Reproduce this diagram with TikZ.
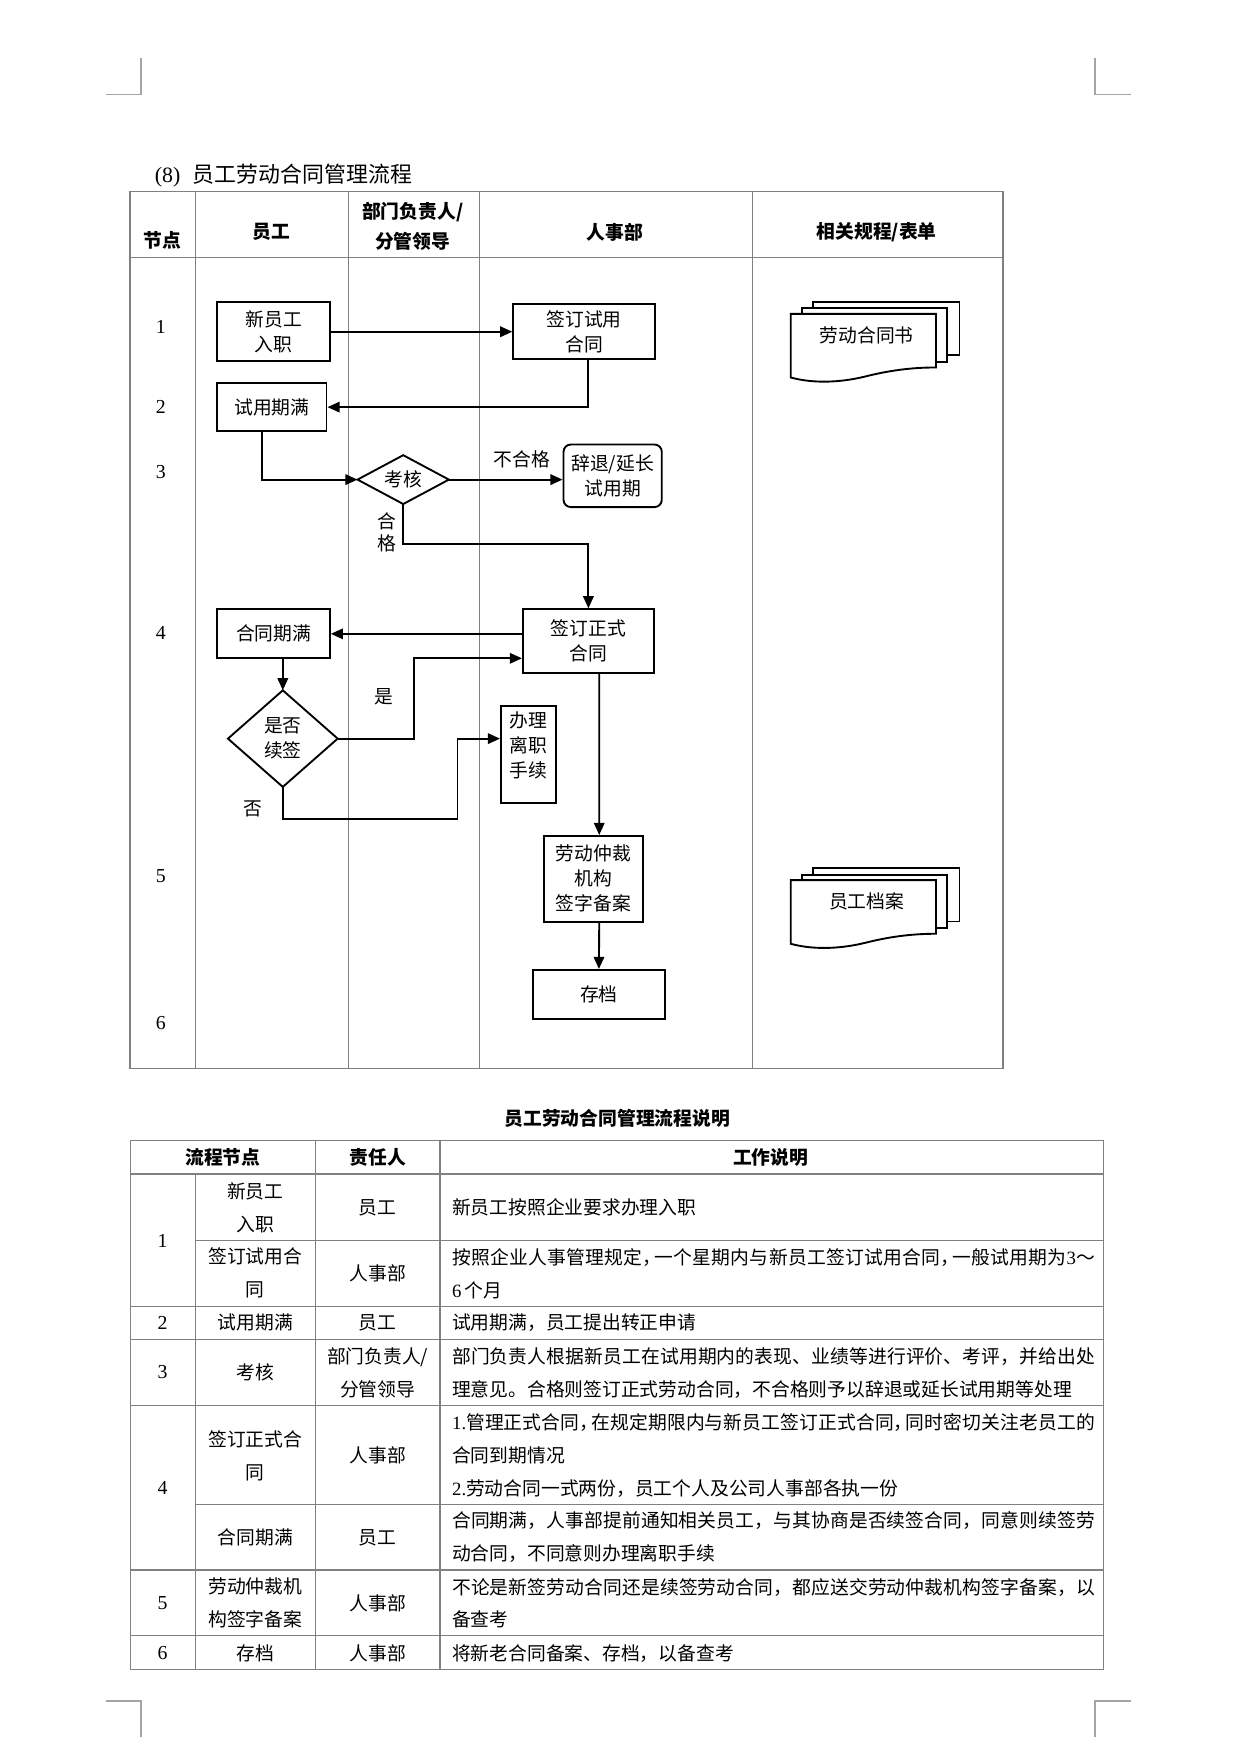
\documentclass[tikz,border=0pt]{standalone}
\usepackage{fontspec}
\setmainfont{Liberation Serif}
\newfontfamily\cjk{Noto Sans CJK SC}
\usetikzlibrary{arrows.meta,calc}
\XeTeXlinebreaklocale "zh"
\XeTeXlinebreakskip=0pt plus 1.5pt
\setlength{\parindent}{0pt}
\definecolor{tablegray}{RGB}{128,128,128}
\definecolor{markgray}{RGB}{165,165,165}
\def\PX{0.5353pt}
\newcommand\nm[1]{{\rmfamily #1}}
\begin{document}
\begin{tikzpicture}[x=0.5353pt,y=-0.5353pt,
  tline/.style={draw=tablegray,line width=0.6pt},
  cornermark/.style={draw=markgray,line width=0.7pt},
  shp/.style={draw=black,line width=0.9pt},
  arr/.style={draw=black,line width=0.9pt,-{Triangle[length=5.8pt,width=5pt]}},
  box/.style={shp,fill=white,inner sep=0pt,align=center,font=\cjk\fontsize{9}{12}\selectfont},
  txt/.style={inner sep=0pt,align=center,font=\cjk\fontsize{9}{12}\selectfont},
  hdr/.style={inner sep=0pt,align=center,font=\cjk\bfseries\fontsize{9}{14.7}\selectfont},
  num/.style={inner sep=0pt,font=\rmfamily\fontsize{9.5}{12}\selectfont},
  cell/.style={inner sep=0pt,align=center,font=\cjk\fontsize{9}{15.8}\selectfont},
  desc/.style={inner sep=0pt,anchor=west,text width=308pt,align=justify,font=\cjk\fontsize{9}{15.8}\selectfont},
]
\fill[white] (0,0) rectangle (1112,1565);
\useasboundingbox (0,0) rectangle (1112,1565);

% corner marks
\draw[cornermark] (94.5,84.4) -- (126.2,84.4) -- (126.2,52.2);
\draw[cornermark] (1012.6,84.4) -- (980.5,84.4) -- (980.5,52.2);
\draw[cornermark] (94.9,1522.8) -- (126.2,1522.8) -- (126.2,1555.3);
\draw[cornermark] (1012.4,1522.8) -- (980.5,1522.8) -- (980.5,1555.3);

% title
\node[anchor=west,inner sep=0pt,font=\cjk\fontsize{10.5}{12}\selectfont] (title) at (138.3,157.3) {\nm{(8)}\hspace{6pt}员工劳动合同管理流程};

% flow table grid
\draw[tline] (116.5,171.6) rectangle (898,956.4);
\draw[tline] (116.5,230.4) -- (898,230.4);
\foreach \xx in {175.2,312,429.4,673.7} {\draw[tline] (\xx,171.6) -- (\xx,956.4);}

\node[hdr] (h1) at (145.4,215.5) {节点};
\node[hdr] (h2) at (243.2,208) {员工};
\node[hdr] (h3) at (369.5,202.6) {部门负责人/\\分管领导};
\node[hdr] (h4) at (550.3,208) {人事部};
\node[hdr] (h5) at (785,208) {相关规程/表单};

\node[num] (r1) at (144,292.5) {1};
\node[num] (r2) at (144,364) {2};
\node[num] (r3) at (144,422.3) {3};
\node[num] (r4) at (144,566.4) {4};
\node[num] (r5) at (144,784.2) {5};
\node[num] (r6) at (144,916) {6};

% flow nodes
\node[box,minimum width=100.7*\PX,minimum height=53*\PX] (n1) at (245,297) {新员工\\入职};
\node[box,minimum width=127*\PX,minimum height=49*\PX] (n2) at (523,297) {签订试用\\合同};
\node[box,minimum width=97.7*\PX,minimum height=43.4*\PX] (n3) at (243.5,364.5) {试用期满};
\node[txt,minimum width=81*\PX,minimum height=43*\PX] (d1) at (361,429.4) {考核};
\draw[shp] (d1.west) -- (d1.north) -- (d1.east) -- (d1.south) -- cycle;
\node[box,rounded corners=3.5pt,minimum width=88*\PX,minimum height=56*\PX] (x1) at (548.5,426) {辞退/延长\\试用期};
\node[box,minimum width=117.3*\PX,minimum height=57*\PX] (n4) at (526.8,574) {签订正式\\合同};
\node[box,minimum width=100.7*\PX,minimum height=44*\PX] (n5) at (245,567.5) {合同期满};
\node[txt,minimum width=97.5*\PX,minimum height=85.7*\PX] (d2) at (253.2,661.3) {是否\\续签};
\draw[shp] (d2.west) -- (d2.north) -- (d2.east) -- (d2.south) -- cycle;
\node[box,minimum width=49*\PX,minimum height=87.2*\PX] (n6) at (473,675.6) {};
\node[txt] (n6t) at (473,667) {办理\\离职\\手续};
\node[box,minimum width=88*\PX,minimum height=76.7*\PX] (n7) at (531.3,786.8) {劳动仲裁\\机构\\签字备案};
\node[box,minimum width=117.7*\PX,minimum height=44*\PX] (n8) at (536.2,890.4) {存档};

% labels
\node[txt] (l1) at (467,411) {不合格};
\node[txt,font=\cjk\fontsize{9}{10.5}\selectfont] (l2) at (346.5,476.7) {合\\格};
\node[txt] (l3) at (344,623.7) {是};
\node[txt] (l4) at (226.7,724.6) {否};

% connectors
\draw[arr] (n1.east) -- (n2.west);
\draw[arr] ($(n2.south)+(3.3,0)$) |- (n3.east);
\draw[arr] ($(n3.south)+(-9.1,0)$) |- (d1.west);
\draw[arr] (d1.east) -- (d1.east -| x1.west);
\coordinate (c1) at (361,487.3);
\draw[arr] (d1.south) -- (c1) -| (n4.north);
\draw[arr] (n4.west |- n5.east) -- (n5.east);
\draw[arr] (d2.north |- n5.south) -- (d2.north);
\coordinate (c2) at (370.3,589.4);
\draw[arr] (d2.east) -| (c2) -- (c2 -| n4.west);
\coordinate (c3) at (253.2,733.5);
\coordinate (c4) at (409.6,733.5);
\draw[arr] (d2.south) -- (c3) -- (c4) |- (n6.west |- d2.east);
\draw[arr] ($(n4.south)+(9.7,0)$) -- ($(n7.north)+(5.2,0)$);
\draw[arr] ($(n7.south)+(5.2,0)$) -- (n8.north);

% document stacks
\foreach \dy/\nme/\lbl in {0/doca/劳动合同书,507/docb/员工档案} {
  \begin{scope}[shift={(0,\dy)}]
    \filldraw[shp,fill=white] (728,270) rectangle (859,318);
    \filldraw[shp,fill=white] (718,276) rectangle (848,324);
    \filldraw[shp,fill=white] (708,281) -- (838,281) -- (838,329)
      .. controls (815,329) and (795,332) .. (775,337)
      .. controls (755,342) and (730,344) .. (708,338) -- cycle;
    \node[txt] (\nme) at (776,300) {\lbl};
  \end{scope}
}

% second table
\node[hdr] (t2) at (552.6,1001.2) {员工劳动合同管理流程说明};
\draw[tline] (116.7,1021.2) rectangle (988,1494.5);
\foreach \yy in {1051,1169.5,1199.3,1258.4,1405.6,1464.4} {\draw[tline] (116.7,\yy) -- (988,\yy);}
\foreach \yy in {1110.4,1346.8} {\draw[tline] (174.9,\yy) -- (988,\yy);}
\draw[tline] (174.9,1051) -- (174.9,1494.5);
\draw[tline] (282.2,1021.2) -- (282.2,1494.5);
\draw[tline] (394,1021.2) -- (394,1494.5);

\node[hdr] (th1) at (199.5,1036.1) {流程节点};
\node[hdr] (th2) at (338.1,1036.1) {责任人};
\node[hdr] (th3) at (689.9,1036.1) {工作说明};

\node[num] (k1) at (145.6,1111) {1};
\node[num] (k2) at (145.6,1184.4) {2};
\node[num] (k3) at (145.6,1228.8) {3};
\node[num] (k4) at (145.6,1332.2) {4};
\node[num] (k5) at (145.6,1435) {5};
\node[num] (k6) at (145.6,1480) {6};

\node[cell] (a1) at (228.5,1081) {新员工\\入职};
\node[cell] (a2) at (228.5,1140) {签订试用合\\同};
\node[cell] (a3) at (228.5,1184.4) {试用期满};
\node[cell] (a4) at (228.5,1228.8) {考核};
\node[cell] (a5) at (228.5,1303) {签订正式合\\同};
\node[cell] (a6) at (228.5,1376.4) {合同期满};
\node[cell] (a7) at (228.5,1435.4) {劳动仲裁机\\构签字备案};
\node[cell] (a8) at (228.5,1480) {存档};

\node[cell] (b1) at (338.1,1081.5) {员工};
\node[cell] (b2) at (338.1,1140) {人事部};
\node[cell] (b3) at (338.1,1184.4) {员工};
\node[cell] (b4) at (338.1,1229.5) {部门负责人/\\分管领导};
\node[cell] (b5) at (338.1,1302.6) {人事部};
\node[cell] (b6) at (338.1,1376.4) {员工};
\node[cell] (b7) at (338.1,1435.4) {人事部};
\node[cell] (b8) at (338.1,1480) {人事部};

\node[desc] (w1) at (404.4,1080.7) {新员工按照企业要求办理入职};
\node[desc] (w2) at (404.4,1140) {按照企业人事管理规定，\hspace{-3pt}一个星期内与新员工签订试用合同，\hspace{-3pt}一般试用期为\nm{3}～\linebreak \nm{6}\,个月};
\node[desc] (w3) at (404.4,1184.4) {试用期满，员工提出转正申请};
\node[desc] (w4) at (404.4,1229.5) {部门负责人根据新员工在试用期内的表现、业绩等进行评价、考评，并给出处\linebreak 理意见。合格则签订正式劳动合同，不合格则予以辞退或延长试用期等处理};
\node[desc] (w5) at (404.4,1303.3) {\nm{1.}管理正式合同，\hspace{-3.2pt}在规定期限内与新员工签订正式合同，\hspace{-3.2pt}同时密切关注老员工的\linebreak 合同到期情况\\\nm{2.}劳动合同一式两份，员工个人及公司人事部各执一份};
\node[desc] (w6) at (404.4,1376.4) {合同期满，人事部提前通知相关员工，与其协商是否续签合同，同意则续签劳\linebreak 动合同，不同意则办理离职手续};
\node[desc] (w7) at (404.4,1435.4) {不论是新签劳动合同还是续签劳动合同，都应送交劳动仲裁机构签字备案，以\linebreak 备查考};
\node[desc] (w8) at (404.4,1480.1) {将新老合同备案、存档，以备查考};
\end{tikzpicture}
\end{document}
